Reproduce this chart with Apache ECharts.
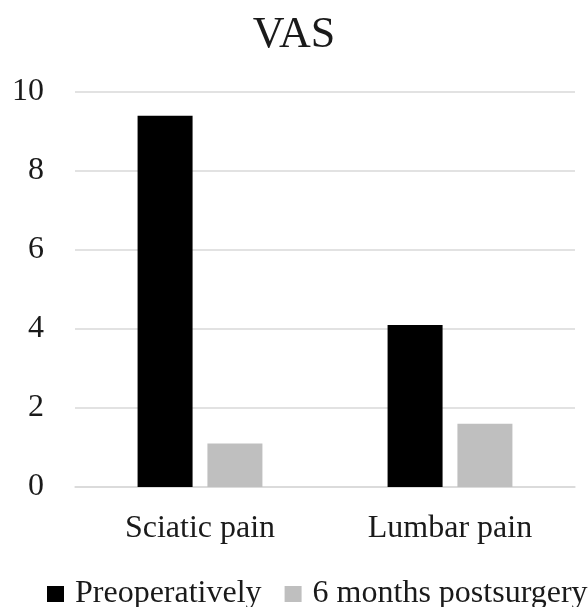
<!DOCTYPE html>
<html>
<head>
<meta charset="utf-8">
<script src="https://cdn.jsdelivr.net/npm/echarts@6/dist/echarts.min.js"></script>
<style>html,body{margin:0;padding:0;background:#fff;}#c{width:588px;height:607px;}</style>
</head>
<body>
<div id="c"></div>
<script>
var categories = ['Sciatic pain', 'Lumbar pain'];
var preoperatively = [9.4, 4.1];
var postsurgery = [1.1, 1.6];
var seriesNames = ['Preoperatively', '6 months postsurgery'];

var chart = echarts.init(document.getElementById('c'));
var font = 'Liberation Serif, Times New Roman, serif';
chart.setOption({
  animation: false,
  backgroundColor: '#fff',
  title: {
    text: 'VAS', left: 'center', top: 8,
    textStyle: { fontFamily: font, fontSize: 44, fontWeight: 'normal', color: '#1a1a1a' }
  },
  legend: {
    bottom: -3, left: 47, width: 640, padding: 0,
    itemWidth: 17, itemHeight: 16, itemGap: 23,
    icon: 'rect',
    textStyle: { fontFamily: font, fontSize: 32, color: '#1a1a1a', padding: [0, 0, 0, 6] },
    data: seriesNames
  },
  grid: { left: 75, right: 13, top: 92, bottom: 120 },
  xAxis: {
    type: 'category', data: categories,
    axisLine: { show: true, lineStyle: { color: '#d9d9d9', width: 1.5 } },
    axisTick: { show: false },
    axisLabel: { fontFamily: font, fontSize: 32, color: '#1a1a1a', margin: 26 }
  },
  yAxis: {
    type: 'value', min: 0, max: 10, interval: 2,
    axisLine: { show: false }, axisTick: { show: false },
    splitLine: { lineStyle: { color: '#d9d9d9', width: 1.5 } },
    axisLabel: { fontFamily: font, fontSize: 32, color: '#1a1a1a', margin: 31 }
  },
  series: [
    { name: seriesNames[0], type: 'bar', data: preoperatively, barWidth: 55, barGap: '27%', itemStyle: { color: '#000000' } },
    { name: seriesNames[1], type: 'bar', data: postsurgery, barWidth: 55, itemStyle: { color: '#bfbfbf' } }
  ]
});
</script>
</body>
</html>
